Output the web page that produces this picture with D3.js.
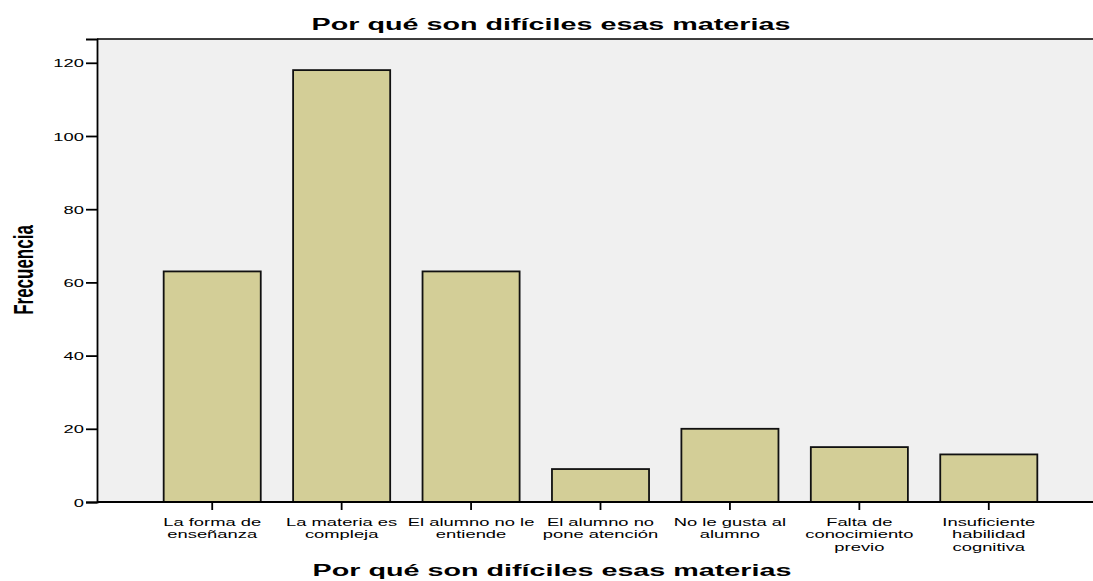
<!DOCTYPE html>
<html>
<head>
<meta charset="utf-8">
<script src="https://cdn.jsdelivr.net/npm/d3@7"></script>
<style>
  body { margin: 0; background: #fff; }
  text { font-family: Arial, "Liberation Sans", sans-serif; }
</style>
</head>
<body>
<div id="chart"></div>
<script>
var categories = [
  ["La forma de", "enseñanza"],
  ["La materia es", "compleja"],
  ["El alumno no le", "entiende"],
  ["El alumno no", "pone atención"],
  ["No le gusta al", "alumno"],
  ["Falta de", "conocimiento", "previo"],
  ["Insuficiente", "habilidad", "cognitiva"]
];
var frecuencia = [63, 118, 63, 9, 20, 15, 13];
var yTicks = [0, 20, 40, 60, 80, 100, 120];
var title = "Por qué son difíciles esas materias";

var W = 1093, H = 581;
var plot = {left: 97, right: 1093, top: 39, bottom: 502};
var sx = 1.64; // the text is drawn wide, stretched sideways

var svg = d3.select("#chart").append("svg")
    .attr("width", W)
    .attr("height", H);

var keys = categories.map(function(d, i) { return "c" + i; });

var x = d3.scaleBand()
    .domain(keys)
    .range([147.5, 1053.5])
    .paddingInner(0.25)
    .paddingOuter(0.125);

var y = d3.scaleLinear()
    .domain([0, 126.5])
    .range([plot.bottom, plot.top]);

// plot background
svg.append("rect")
    .attr("x", plot.left)
    .attr("y", plot.top)
    .attr("width", plot.right - plot.left)
    .attr("height", plot.bottom - plot.top)
    .attr("fill", "#f0f0f0");

// top border
svg.append("line")
    .attr("x1", plot.left).attr("x2", plot.right)
    .attr("y1", plot.top).attr("y2", plot.top)
    .attr("stroke", "#000").attr("stroke-width", 1.5);

// bars
svg.selectAll("rect.bar")
  .data(frecuencia)
  .enter().append("rect")
    .attr("class", "bar")
    .attr("x", function(d, i) { return x(keys[i]); })
    .attr("y", function(d) { return y(d); })
    .attr("width", x.bandwidth())
    .attr("height", function(d) { return plot.bottom - y(d); })
    .attr("fill", "#d3ce97")
    .attr("stroke", "#111")
    .attr("stroke-width", 1.8);

// y axis
var yAxis = svg.append("g")
    .attr("transform", "translate(" + plot.left + ",0)")
    .call(d3.axisLeft(y).tickValues(yTicks).tickSize(11));
yAxis.select(".domain").attr("stroke", "#000").attr("stroke-width", 1.8);
yAxis.selectAll(".tick line").attr("stroke", "#000").attr("stroke-width", 1.8);
yAxis.selectAll(".tick text")
    .attr("x", 0)
    .attr("dy", "0.36em")
    .attr("transform", "translate(-13,0) scale(" + sx + ",1)")
    .attr("font-size", "11.2px")
    .attr("font-family", "Arial, 'Liberation Sans', sans-serif")
    .attr("fill", "#000");

// x axis
var xAxis = svg.append("g")
    .attr("transform", "translate(0," + plot.bottom + ")")
    .call(d3.axisBottom(x).tickSize(8).tickSizeOuter(0).tickFormat(""));
xAxis.select(".domain")
    .attr("d", "M" + plot.left + ",0H" + plot.right)
    .attr("stroke", "#000").attr("stroke-width", 1.8);
xAxis.selectAll(".tick line").attr("stroke", "#000").attr("stroke-width", 1.8);

xAxis.selectAll(".tick").each(function(k, i) {
  var t = d3.select(this).append("text")
      .attr("fill", "#000")
      .attr("font-size", "11.2px")
      .attr("font-family", "Arial, 'Liberation Sans', sans-serif")
      .attr("text-anchor", "middle")
      .attr("transform", "translate(0,24) scale(" + sx + ",1)");
  categories[i].forEach(function(line, j) {
    t.append("tspan").attr("x", 0).attr("y", j * 12.5).text(line);
  });
});

// title
svg.append("text")
    .attr("transform", "translate(551,30) scale(1.69,1)")
    .attr("text-anchor", "middle")
    .attr("font-size", "17px")
    .attr("font-weight", "bold")
    .text(title);

// x title
svg.append("text")
    .attr("transform", "translate(552,576) scale(1.69,1)")
    .attr("text-anchor", "middle")
    .attr("font-size", "17px")
    .attr("font-weight", "bold")
    .text(title);

// y title
svg.append("text")
    .attr("transform", "translate(33,270) scale(" + sx + ",1) rotate(-90)")
    .attr("text-anchor", "middle")
    .attr("font-size", "17px")
    .attr("font-weight", "bold")
    .text("Frecuencia");
</script>
</body>
</html>
